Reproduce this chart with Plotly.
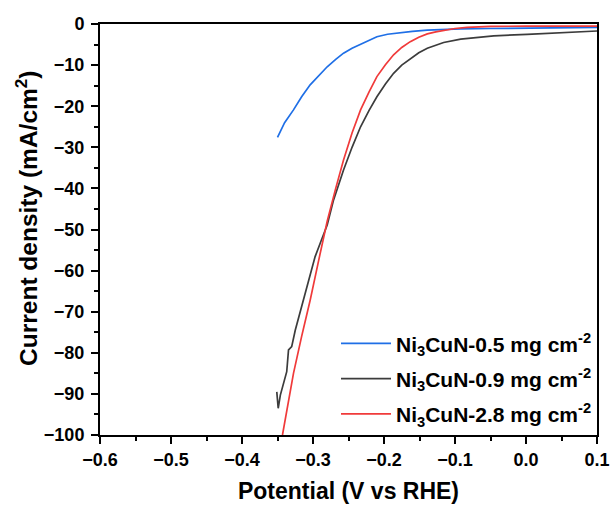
import plotly.graph_objects as go

# ---- data ----
blue_v = [-0.350, -0.340, -0.3275, -0.316, -0.304, -0.292, -0.280, -0.268, -0.257, -0.245,
          -0.233, -0.221, -0.210, -0.195, -0.177, -0.160, -0.139, -0.115, -0.092, -0.05,
          0.0, 0.05, 0.1]
blue_j = [-27.6, -24.0, -20.9, -17.7, -14.8, -12.5, -10.4, -8.6, -7.1, -5.9,
          -4.9, -3.9, -3.1, -2.5, -2.1, -1.8, -1.5, -1.3, -1.2, -1.1,
          -1.0, -0.9, -0.8]

black_v = [-0.351, -0.349, -0.346, -0.342, -0.337, -0.3345, -0.330, -0.325, -0.3134, -0.3016,
           -0.297, -0.290, -0.280, -0.271, -0.257, -0.245, -0.233, -0.221, -0.210, -0.198,
           -0.1865, -0.175, -0.163, -0.151, -0.139, -0.127, -0.116, -0.092, -0.0455, 0.0016,
           0.0485, 0.1]
black_j = [-89.5, -93.5, -90.3, -87.5, -84.6, -79.3, -78.5, -74.5, -67.2, -59.9,
           -56.6, -53.4, -48.9, -42.8, -35.5, -30.0, -25.0, -21.0, -17.7, -14.6,
           -12.0, -10.0, -8.4, -7.0, -5.9, -5.1, -4.5, -3.7, -2.9, -2.5,
           -2.1, -1.7]

red_v = [-0.343, -0.335, -0.3275, -0.316, -0.304, -0.292, -0.280, -0.268, -0.257, -0.245,
         -0.233, -0.221, -0.210, -0.198, -0.1865, -0.175, -0.163, -0.151, -0.139, -0.127,
         -0.116, -0.100, -0.083, -0.05, 0.0, 0.05, 0.1]
red_j = [-100, -92.5, -85, -76, -67.2, -57.5, -48.0, -40.0, -33.1, -26.5,
         -20.9, -16.5, -12.8, -9.9, -7.5, -5.7, -4.3, -3.2, -2.4, -1.9,
         -1.5, -1.1, -0.8, -0.6, -0.5, -0.5, -0.5]

names = ["Ni<sub>3</sub>CuN-0.5 mg cm<sup>-2</sup>",
         "Ni<sub>3</sub>CuN-0.9 mg cm<sup>-2</sup>",
         "Ni<sub>3</sub>CuN-2.8 mg cm<sup>-2</sup>"]
colors = ["#1f6fe6", "#3c3c3c", "#f03a3a"]

x_ticks = [-0.6, -0.5, -0.4, -0.3, -0.2, -0.1, 0.0, 0.1]
y_ticks = [0, -10, -20, -30, -40, -50, -60, -70, -80, -90, -100]

x_title = "Potential (V vs RHE)"
y_title = "Current density (mA/cm<sup>2</sup>)"

FONT = "Liberation Sans, Arial, sans-serif"

fig = go.Figure()
for i, (v, j, n, c) in enumerate(zip([blue_v, black_v, red_v], [blue_j, black_j, red_j], names, colors)):
    fig.add_trace(go.Scatter(x=v, y=j, mode="lines", name=n, legendgroup=f"g{i}",
                             line=dict(color=c, width=1.7)))

axis_common = dict(showline=True, linecolor="black", linewidth=2, mirror=True,
                   ticks="outside", tickwidth=2, ticklen=7, tickcolor="black",
                   showgrid=False, zeroline=False, automargin=False,
                   tickfont=dict(family=FONT, size=18, color="black", weight="bold"))

fig.update_xaxes(range=[-0.6, 0.1], tickvals=x_ticks, tickformat=".1f",
                 minor=dict(ticks="outside", ticklen=4, tickwidth=1.5, tickcolor="black", dtick=0.05, tick0=0),
                 title=dict(text=x_title, standoff=14,
                            font=dict(family=FONT, size=23, color="black", weight="bold")),
                 **axis_common)
fig.update_yaxes(range=[-100, 0], tickvals=y_ticks, ticklabelstandoff=3,
                 minor=dict(ticks="outside", ticklen=4, tickwidth=1.5, tickcolor="black", dtick=5, tick0=0),
                 **axis_common)

fig.add_annotation(text=y_title, textangle=-90, showarrow=False,
                   xref="paper", yref="paper", x=-0.147, y=0.528,
                   xanchor="center", yanchor="middle",
                   font=dict(family=FONT, size=24.5, color="black", weight="bold"))

fig.update_layout(
    width=614, height=506,
    margin=dict(l=100, r=17, t=24, b=71),
    plot_bgcolor="white", paper_bgcolor="white",
    legend=dict(x=1.0, xanchor="right", y=0.002, yanchor="bottom",
                bgcolor="rgba(0,0,0,0)", itemwidth=50, tracegroupgap=5,
                font=dict(family=FONT, size=21, color="black", weight="bold")),
    showlegend=True,
)

fig.write_html("out.html")
